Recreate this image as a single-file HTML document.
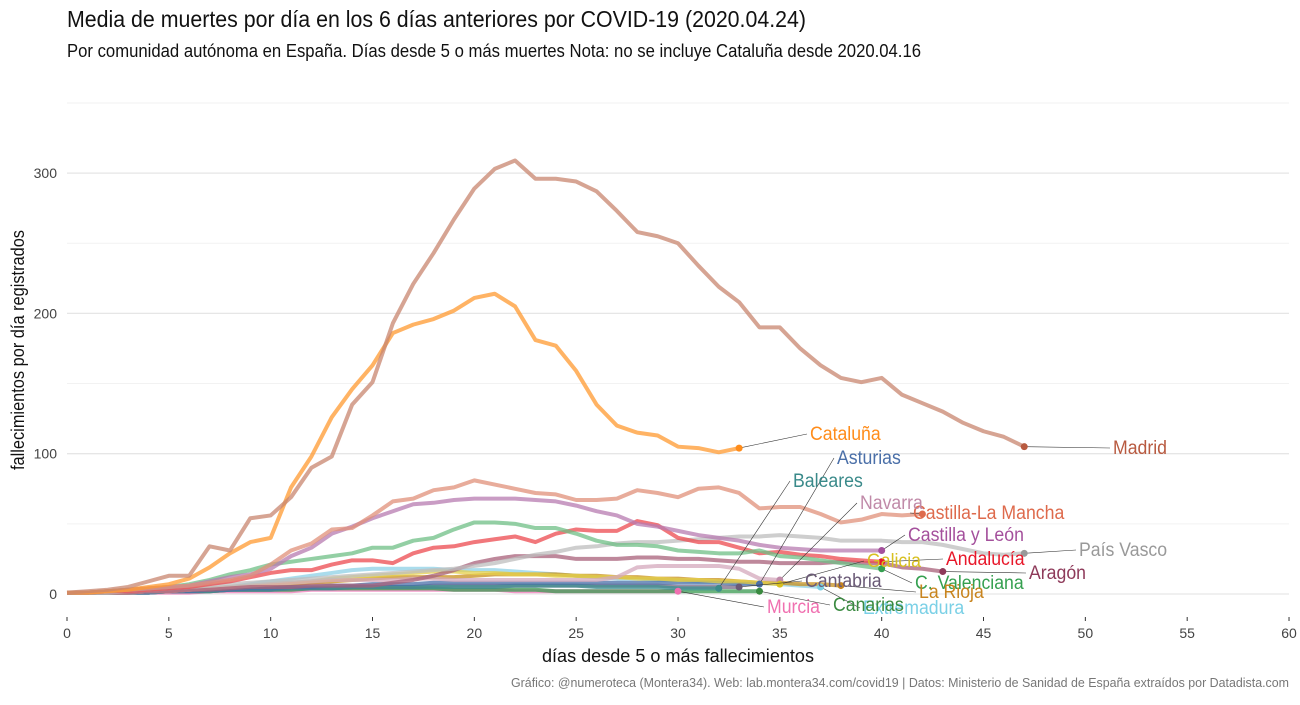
<!DOCTYPE html>
<html><head><meta charset="utf-8">
<style>
html,body{margin:0;padding:0;background:#fff;}
body{width:1300px;height:700px;overflow:hidden;font-family:"Liberation Sans",sans-serif;}
svg text{font-family:"Liberation Sans",sans-serif;}
</style></head>
<body>
<svg id="chart" width="1300" height="700" xmlns="http://www.w3.org/2000/svg">
<text x="67" y="27" font-size="23" fill="#111" textLength="739" lengthAdjust="spacingAndGlyphs">Media de muertes por día en los 6 días anteriores por COVID-19 (2020.04.24)</text>
<text x="67" y="57" font-size="18" fill="#111" textLength="854" lengthAdjust="spacingAndGlyphs">Por comunidad autónoma en España. Días desde 5 o más muertes Nota: no se incluye Cataluña desde 2020.04.16</text>
<g id="grid"></g>
<g id="axes"></g>
<g id="series"></g>
<g id="labels"></g>
<text transform="translate(24,350) rotate(-90)" text-anchor="middle" font-size="18" fill="#111" textLength="240" lengthAdjust="spacingAndGlyphs">fallecimientos por día registrados</text>
<text x="678" y="662" text-anchor="middle" font-size="18" fill="#111" textLength="272" lengthAdjust="spacingAndGlyphs">días desde 5 o más fallecimientos</text>
<text x="1289" y="687" text-anchor="end" font-size="12.5" fill="#777" textLength="778" lengthAdjust="spacingAndGlyphs">Gráfico: @numeroteca (Montera34). Web: lab.montera34.com/covid19 | Datos: Ministerio de Sanidad de España extraídos por Datadista.com</text>
</svg>
<script>
const xTicks=[0,5,10,15,20,25,30,35,40,45,50,55,60];
const yTicks=[0,100,200,300];
const yMinor=[50,150,250,350];
const regions=["Madrid","Cataluña","Castilla-La Mancha","Castilla y León","C. Valenciana","Andalucía","País Vasco","Aragón","Navarra","Galicia","Asturias","Baleares","Cantabria","La Rioja","Extremadura","Canarias","Murcia"];
const madrid=[1,2,3,5,9,13,13,34,31,54,56,69,90,98,135,151,193,221,243,267,289,303,309,296,296,294,287,273,258,255,250,234,219,208,190,190,175,163,154,151,154,142,136,130,122,116,112,105];
const cataluna=[1,1,2,3,5,7,11,19,29,37,40,76,98,126,146,163,186,192,196,202,211,214,205,181,177,159,135,120,115,113,105,104,101,104];
const clm=[1,1,2,3,4,5,6,8,10,13,21,31,36,46,47,56,66,68,74,76,81,78,75,72,71,67,67,68,74,72,69,75,76,72,61,62,62,57,51,53,57,56,57];
const cyl=[1,1,2,3,4,5,6,9,12,14,18,27,33,43,48,54,59,64,65,67,68,68,68,67,66,63,59,56,50,48,45,42,40,38,35,33,32,31,31,31,31];
const cval=[1,1,2,3,4,5,7,10,14,17,21,23,25,27,29,33,33,38,40,46,51,51,50,47,47,43,38,35,35,34,31,30,29,29,31,27,26,24,22,20,18];
const andalucia=[1,1,2,2,3,4,5,7,9,12,15,17,17,21,24,24,22,29,33,34,37,39,41,37,43,46,45,45,52,49,40,37,37,33,29,30,28,27,25,24,23];
const paisvasco=[1,1,1,2,3,4,5,6,7,8,9,10,11,12,13,14,15,16,17,18,20,22,25,28,30,33,34,36,37,37,38,39,40,41,41,42,41,40,38,38,38,37,37,35,32,29,28,29];
const aragon=[1,1,1,1,2,2,3,3,4,5,5,5,6,6,6,6,8,10,13,17,22,25,27,27,27,25,25,25,26,26,25,25,24,23,23,22,22,22,23,22,22,19,18,16];
const navarra=[1,1,1,1,2,2,3,4,5,6,7,8,9,10,10,10,10,11,11,10,10,10,10,10,10,10,10,12,19,20,20,20,20,18,11,10];
const galicia=[1,1,1,1,2,2,3,4,5,6,7,8,9,11,12,13,14,15,16,16,15,15,14,14,13,13,12,12,11,11,10,10,9,9,8,7];
const asturias=[1,1,1,1,1,2,2,3,3,4,4,5,5,6,6,7,7,7,8,8,8,8,8,8,8,8,8,8,8,8,8,8,8,7,7];
const baleares=[1,1,1,1,1,2,2,2,3,3,3,4,4,4,5,5,5,5,5,5,5,5,6,6,6,6,5,5,5,5,4,4,4];
const cantabria=[1,1,1,1,1,2,2,2,3,3,3,4,4,4,5,5,5,5,6,6,6,6,6,6,6,6,6,6,6,6,5,5,5,5];
const larioja=[1,1,1,1,2,2,3,3,4,5,6,7,8,9,10,11,12,12,12,12,13,14,14,14,14,13,13,12,12,11,11,10,10,9,8,8,7,7,6];
const extremadura=[1,1,1,1,2,2,3,4,5,7,9,11,13,15,17,18,18,18,18,17,17,17,16,15,14,13,12,11,11,10,10,9,9,8,8,7,6,5];
const canarias=[1,1,1,1,1,2,2,2,3,3,3,3,4,4,4,4,4,4,4,3,3,3,3,3,2,2,2,2,2,2,2,2,2,2,2];
const murcia=[1,1,1,1,1,1,1,2,2,2,2,2,3,3,3,3,3,3,3,3,3,3,2,2,2,2,2,2,2,2,2];
const seriesData=[madrid,cataluna,clm,cyl,cval,andalucia,paisvasco,aragon,navarra,galicia,asturias,baleares,cantabria,larioja,extremadura,canarias,murcia];
const lineColors=["#c8866f","#ff9a30","#e0907a","#b77bb0","#6fbf86","#ec4a4f","#bdbdbd","#a8607a","#d4a8bc","#e6d04a","#4a6fa8","#3a9090","#7a6a86","#c8901e","#8ed0e6","#3a9a50","#f07ab8"];
const textColors=["#b85a40","#ff8c1a","#de6a4c","#a4509c","#35a050","#e8182a","#999999","#8e3a5a","#c08aa8","#d8c020","#4a6fa8","#3a8a8a","#6a5a76","#c8841e","#7ad0e6","#3a8a40","#f070b0"];
// label anchor positions (pixels), in region order — layout, not data
const labelPos=[[1113,454],[810,440],[913,519],[908,541],[915,589],[946,565],[1079,556],[1029,579],[860,509],[867,567],[837,464],[793,487],[805,587],[919,598],[863,614],[833,611],[767,613]];

const X=d=>67+d*20.367, Y=v=>594-v*1.403;
const NS="http://www.w3.org/2000/svg";
function mk(tag,attrs,parent){const e=document.createElementNS(NS,tag);for(const k in attrs)e.setAttribute(k,attrs[k]);parent.appendChild(e);return e;}
const grid=document.getElementById('grid'),axes=document.getElementById('axes'),ser=document.getElementById('series'),lab=document.getElementById('labels');
yMinor.forEach(v=>{const l=mk('line',{x1:67,x2:1289,y1:Y(v),y2:Y(v),stroke:'#f2f2f2','stroke-width':1},grid);

});
yTicks.forEach(v=>{const l=mk('line',{x1:67,x2:1289,y1:Y(v),y2:Y(v),stroke:'#e6e6e6','stroke-width':1.3},grid);


const t=mk('text',{x:57,y:Y(v)+5,'text-anchor':'end','font-size':14,fill:'#444'},axes);t.textContent=v;

});
xTicks.forEach(d=>{const l=mk('line',{x1:X(d),x2:X(d),y1:617,y2:621,stroke:'#333','stroke-width':1},axes);


const t=mk('text',{x:X(d),y:638,'text-anchor':'middle','font-size':14,fill:'#444'},axes);t.textContent=d;

});
for(let i=seriesData.length-1;i>=0;i--){const s=seriesData[i];
const p=mk('polyline',{points:s.map((v,d)=>X(d)+','+Y(v)).join(' '),fill:'none',stroke:lineColors[i],'stroke-width':4,'stroke-opacity':0.75,'stroke-linejoin':'round'},ser);

}
seriesData.forEach((s,i)=>{const d=s.length-1,v=s[d];const [lx,ly]=labelPos[i];
const ln=mk('line',{x1:X(d),y1:Y(v),x2:lx-3,y2:ly-6,stroke:'#333','stroke-width':0.6},lab);


const c=mk('circle',{cx:X(d),cy:Y(v),r:3.5,fill:textColors[i]},lab);

});
seriesData.forEach((s,i)=>{const [lx,ly]=labelPos[i];
const t=mk('text',{x:lx,y:ly,'font-size':19,fill:textColors[i]},lab);t.textContent=regions[i];


const w=t.getComputedTextLength();
t.setAttribute('textLength',(w*0.93).toFixed(1));
t.setAttribute('lengthAdjust','spacingAndGlyphs');});
</script>
</body></html>
